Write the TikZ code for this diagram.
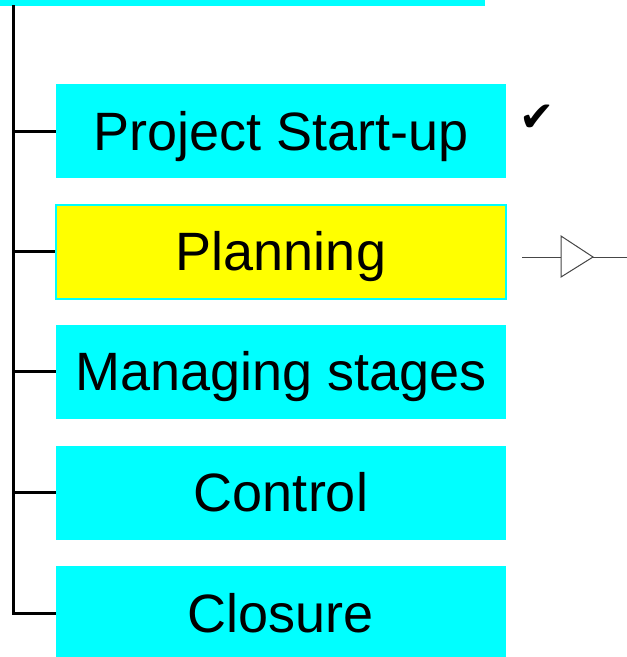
\documentclass[tikz,border=0pt]{standalone}
\usepackage{fontspec}
\setmainfont{Liberation Sans}
\newfontfamily\symfont{DejaVu Sans}
\definecolor{boxcyan}{RGB}{0,255,255}
\definecolor{boxyellow}{RGB}{255,255,0}
\definecolor{wiregray}{RGB}{70,70,70}
\begin{document}
\begin{tikzpicture}[x=1pt,y=-1pt,
  phase/.style={rectangle, fill=boxcyan, draw=none, minimum width=450pt,
    minimum height=94pt, inner sep=0pt, text height=38pt, text depth=0pt,
    font=\fontsize{54pt}{60pt}\selectfont},
  current/.style={phase, fill=boxyellow, draw=boxcyan, line width=2pt},
  tree/.style={line width=3pt, black},
  wire/.style={line width=1pt, wiregray}]
\useasboundingbox (0,0) rectangle (627,657);

% parent bar, cut by the top edge
\node[rectangle, fill=boxcyan, minimum width=485pt, minimum height=11pt, inner sep=0pt] (parent) at (242.5,0) {};

% process phases
\node[phase]   (start)   at (281,131)   {Project Start-up};
\node[current] (plan)    at (281,251.5) {Planning};
\node[phase]   (manage)  at (281,371.5) {Managing stages};
\node[phase]   (control) at (281,492.5) {Control};
\node[phase]   (close)   at (281,613)   {Closure};

% tree spine and branches
\coordinate (spine) at (13,5);
\draw[tree] (spine) |- (close.west);
\foreach \n in {start,plan,manage,control}
  \draw[tree] (spine |- \n.west) -- (\n.west);

% done mark
\node[font=\symfont\fontsize{42pt}{46pt}\selectfont, inner sep=0pt] (done) at (537,118) {✔};

% current-step pointer
\coordinate (wl) at (522,257);
\coordinate (tl) at (561,257);
\coordinate (tt) at (561,236);
\coordinate (tb) at (561,277);
\coordinate (tip) at (593,257);
\coordinate (wr) at (627,257);
\draw[wire] (wl) -- (tl);
\draw[wire, fill=white, line join=miter] (tt) -- (tip) -- (tb) -- cycle;
\draw[wire] (tip) -- (wr);
\end{tikzpicture}
\end{document}
